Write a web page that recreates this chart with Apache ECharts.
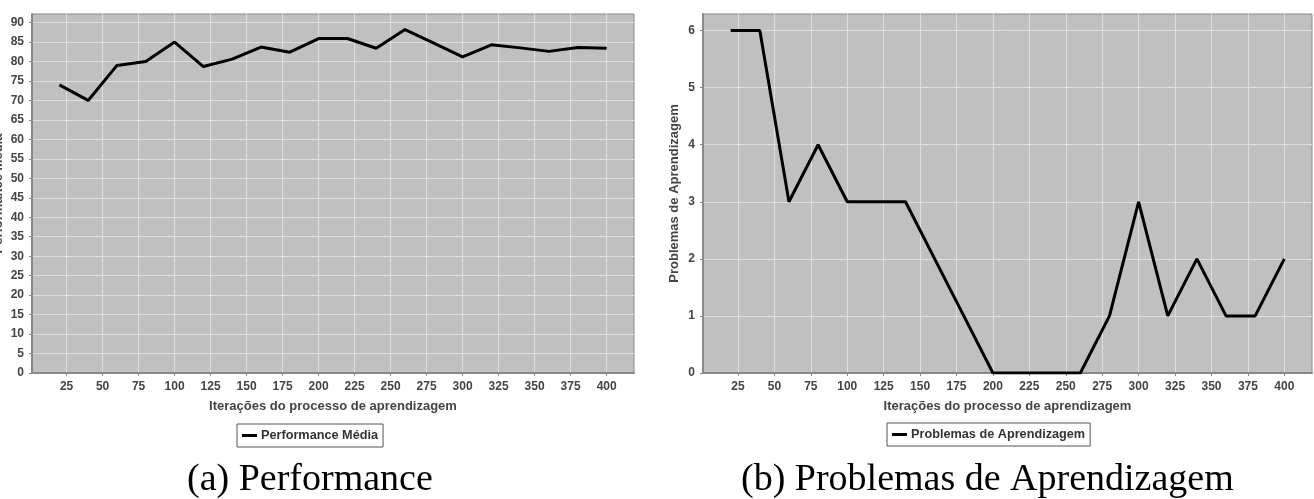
<!DOCTYPE html>
<html>
<head>
<meta charset="utf-8">
<script src="https://cdn.jsdelivr.net/npm/echarts@6/dist/echarts.min.js"></script>
<style>
  html, body { margin: 0; padding: 0; background: #fff; }
  #main { width: 1314px; height: 499px; }
</style>
</head>
<body>
<div id="main"></div>
<script>
// dados
const iteracoes = [20, 40, 60, 80, 100, 120, 140, 160, 180, 200, 220, 240, 260, 280, 300, 320, 340, 360, 380, 400]
const performanceMedia = [74, 70, 79, 80, 85, 78.7, 80.6, 83.7, 82.4, 85.9, 85.9, 83.4, 88.2, 84.7, 81.2, 84.3, 83.5, 82.6, 83.6, 83.4]
const problemasAprendizagem = [6, 6, 3, 4, 3, 3, 3, 2, 1, 0, 0, 0, 0, 1, 3, 1, 2, 1, 1, 2]
const xTicks = [25, 50, 75, 100, 125, 150, 175, 200, 225, 250, 275, 300, 325, 350, 375, 400]
const yTicksPerf = [0, 5, 10, 15, 20, 25, 30, 35, 40, 45, 50, 55, 60, 65, 70, 75, 80, 85, 90]
const yTicksProb = [0, 1, 2, 3, 4, 5, 6]

const sans = 'Liberation Sans, Arial, sans-serif'
const labelColor = '#444'

function xAxisCfg (gridIndex) {
  return {
    type: 'value',
    gridIndex: gridIndex,
    min: 1,
    max: 419,
    name: 'Iterações do processo de aprendizagem',
    nameLocation: 'middle',
    nameGap: 27,
    nameTextStyle: { fontFamily: sans, fontWeight: 'bold', fontSize: 13, color: labelColor },
    axisLine: { lineStyle: { color: '#888', width: 2 } },
    axisTick: { show: true, length: 3, customValues: xTicks, lineStyle: { color: '#888' } },
    axisLabel: { customValues: xTicks, margin: 8, fontFamily: sans, fontWeight: 'bold', fontSize: 12, color: labelColor },
    splitLine: { show: true, lineStyle: { color: '#dedede', width: 1 } }
  }
}

function yAxisCfg (gridIndex, max, ticks, name, gap) {
  return {
    type: 'value',
    gridIndex: gridIndex,
    min: 0,
    max: max,
    name: name,
    nameLocation: 'middle',
    nameGap: gap,
    nameTextStyle: { fontFamily: sans, fontWeight: 'bold', fontSize: 13, color: labelColor },
    axisLine: { show: true, lineStyle: { color: '#888', width: 2 } },
    axisTick: { show: true, length: 3, customValues: ticks, lineStyle: { color: '#888' } },
    axisLabel: { customValues: ticks, margin: 8, fontFamily: sans, fontWeight: 'bold', fontSize: 12, color: labelColor },
    splitLine: { show: true, lineStyle: { color: '#dedede', width: 1 } }
  }
}

function legendCfg (name, left, top) {
  return {
    data: [name],
    left: left,
    top: top,
    orient: 'horizontal',
    icon: 'rect',
    itemWidth: 15,
    itemHeight: 3,
    itemGap: 4,
    padding: [5, 5],
    borderColor: '#555',
    borderWidth: 1,
    textStyle: { fontFamily: sans, fontWeight: 'bold', fontSize: 12.7, color: '#333', padding: [0, 0, 0, -1] }
  }
}

const myChart = echarts.init(document.getElementById('main'), null, { renderer: 'canvas' })

myChart.setOption({
  animation: false,
  backgroundColor: '#fff',
  grid: [
    { left: 32, width: 602, top: 14, height: 359, containLabel: false, outerBoundsMode: 'none', show: true, backgroundColor: '#c0c0c0', borderColor: '#8a8a8a', borderWidth: 1 },
    { left: 703, width: 609, top: 14, height: 359, containLabel: false, outerBoundsMode: 'none', show: true, backgroundColor: '#c0c0c0', borderColor: '#8a8a8a', borderWidth: 1 }
  ],
  xAxis: [xAxisCfg(0), xAxisCfg(1)],
  yAxis: [
    yAxisCfg(0, 92.2, yTicksPerf, 'Performance Média', 27),
    yAxisCfg(1, 6.29, yTicksProb, 'Problemas de Aprendizagem', 22)
  ],
  legend: [
    legendCfg('Performance Média', 237, 424),
    legendCfg('Problemas de Aprendizagem', 887, 423)
  ],
  series: [
    {
      name: 'Performance Média',
      type: 'line',
      xAxisIndex: 0,
      yAxisIndex: 0,
      data: iteracoes.map((x, i) => [x, performanceMedia[i]]),
      showSymbol: false,
      lineStyle: { color: '#000', width: 3 },
      itemStyle: { color: '#000' }
    },
    {
      name: 'Problemas de Aprendizagem',
      type: 'line',
      xAxisIndex: 1,
      yAxisIndex: 1,
      data: iteracoes.map((x, i) => [x, problemasAprendizagem[i]]),
      showSymbol: false,
      lineStyle: { color: '#000', width: 3 },
      itemStyle: { color: '#000' }
    }
  ],
  graphic: [
    {
      type: 'text',
      left: 311 - 124,
      top: 461,
      style: { text: '(a) Performance', fontFamily: 'Liberation Serif, Times New Roman, serif', fontSize: 38, fill: '#000' }
    },
    {
      type: 'text',
      left: 994 - 253,
      top: 461,
      style: { text: '(b) Problemas de Aprendizagem', fontFamily: 'Liberation Serif, Times New Roman, serif', fontSize: 38, fill: '#000' }
    }
  ]
})
</script>
</body>
</html>
